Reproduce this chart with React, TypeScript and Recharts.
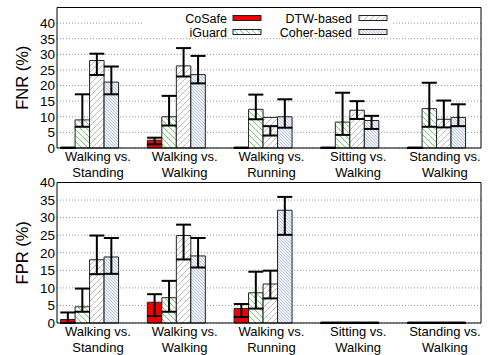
import { BarChart, Bar, XAxis, YAxis, CartesianGrid, ErrorBar } from 'recharts';

const FONT = '"Liberation Sans", Arial, Helvetica, sans-serif';

const groups = [
  ['Walking vs.', 'Standing'],
  ['Walking vs.', 'Walking'],
  ['Walking vs.', 'Running'],
  ['Sitting vs.', 'Walking'],
  ['Standing vs.', 'Walking'],
];

const seriesNames = ['CoSafe', 'iGuard', 'DTW-based', 'Coher-based'];

// FNR (%) -- bar value, lower and upper end of the error bar
const fnrCoSafe = [0, 2.5, 0, 0, 0];
const fnrCoSafeLow = [0, 1.2, 0, 0, 0];
const fnrCoSafeHigh = [0, 3.3, 0, 0, 0];
const fnrIGuard = [9.0, 10.0, 12.4, 8.3, 12.6];
const fnrIGuardLow = [6.8, 7.2, 9.2, 4.2, 6.8];
const fnrIGuardHigh = [17.2, 16.7, 17.1, 17.7, 20.9];
const fnrDtw = [28.0, 26.3, 9.8, 12.1, 9.2];
const fnrDtwLow = [23.4, 22.9, 4.0, 9.3, 6.6];
const fnrDtwHigh = [30.2, 32.0, 7.0, 15.0, 15.2];
const fnrCoher = [21.1, 23.5, 10.0, 8.8, 9.8];
const fnrCoherLow = [17.2, 20.7, 6.5, 6.1, 7.0];
const fnrCoherHigh = [26.1, 29.5, 15.6, 10.3, 14.0];

// FPR (%)
const fprCoSafe = [1.0, 5.9, 4.1, 0, 0];
const fprCoSafeLow = [0, 2.0, 1.7, 0, 0];
const fprCoSafeHigh = [3.0, 8.2, 5.4, 0, 0];
const fprIGuard = [4.6, 7.2, 8.6, 0, 0];
const fprIGuardLow = [3.2, 3.2, 4.1, 0, 0];
const fprIGuardHigh = [9.8, 12.0, 14.6, 0, 0];
const fprDtw = [18.0, 24.9, 11.1, 0, 0];
const fprDtwLow = [13.9, 18.1, 7.0, 0, 0];
const fprDtwHigh = [24.9, 28.0, 14.9, 0, 0];
const fprCoher = [18.8, 19.1, 32.1, 0, 0];
const fprCoherLow = [14.0, 15.8, 25.1, 0, 0];
const fprCoherHigh = [24.2, 24.2, 35.9, 0, 0];

const groupTicks = [0, 1, 2, 3, 4];
const yTicks = [0, 5, 10, 15, 20, 25, 30, 35, 40];

const keys = ['cosafe', 'iguard', 'dtw', 'coher'];
const fills = ['#f00000', 'url(#hatchGreen)', 'url(#hatchGray)', 'url(#hatchBlue)'];

function buildRows(vals: number[][], lows: number[][], highs: number[][]) {
  return groups.map((_, i) => {
    const row: any = { x: i };
    keys.forEach((k, s) => {
      row[k] = vals[s][i];
      row[k + 'Err'] = [vals[s][i] - lows[s][i], highs[s][i] - vals[s][i]];
    });
    return row;
  });
}

const fnrRows = buildRows(
  [fnrCoSafe, fnrIGuard, fnrDtw, fnrCoher],
  [fnrCoSafeLow, fnrIGuardLow, fnrDtwLow, fnrCoherLow],
  [fnrCoSafeHigh, fnrIGuardHigh, fnrDtwHigh, fnrCoherHigh],
);
const fprRows = buildRows(
  [fprCoSafe, fprIGuard, fprDtw, fprCoher],
  [fprCoSafeLow, fprIGuardLow, fprDtwLow, fprCoherLow],
  [fprCoSafeHigh, fprIGuardHigh, fprDtwHigh, fprCoherHigh],
);

const X_DOMAIN: [number, number] = [-0.38, 4.508];
const TICK_SHIFT = 0.085;

function GroupTick({ x, y, payload }: any) {
  const lines = groups[payload.value] || ['', ''];
  return (
    <text x={x + 8} y={y} textAnchor="middle" fontSize={13} fill="#000" fontFamily={FONT}>
      <tspan x={x + 8} dy={13}>{lines[0]}</tspan>
      <tspan x={x + 8} dy={15.5}>{lines[1]}</tspan>
    </text>
  );
}

function Panel({ rows, yMax, title }: { rows: any[]; yMax: number; title: string }) {
  return (
    <BarChart
      width={489}
      height={190}
      data={rows}
      margin={{ top: 7.5, right: 8, left: 0, bottom: 12 }}
      barGap={0}
      barSize={14.5}
    >
      <CartesianGrid vertical={false} stroke="#999" strokeDasharray="1 2" />
      <XAxis
        dataKey="x"
        type="number"
        domain={X_DOMAIN}
        ticks={groupTicks}
        interval={0}
        height={30}
        tickSize={0}
        tickMargin={0}
        tickLine={false}
        axisLine={{ stroke: '#000' }}
        tick={<GroupTick />}
      />
      <XAxis
        xAxisId="top"
        orientation="top"
        mirror
        dataKey="x"
        type="number"
        domain={[X_DOMAIN[0] + TICK_SHIFT, X_DOMAIN[1] + TICK_SHIFT]}
        ticks={groupTicks}
        tick={false}
        tickSize={4}
        tickLine={{ stroke: '#000' }}
        axisLine={{ stroke: '#000' }}
      />
      <YAxis
        width={57}
        domain={[0, yMax]}
        ticks={yTicks}
        interval={0}
        tickSize={0}
        tickMargin={2}
        tickLine={false}
        axisLine={{ stroke: '#000' }}
        tick={{ fill: '#000', fontSize: 13.5, fontFamily: FONT }}
        label={{
          value: title,
          angle: -90,
          position: 'insideLeft',
          offset: 22,
          style: { fill: '#000', fontSize: 16.5, fontFamily: FONT, textAnchor: 'middle' },
        }}
      />
      <YAxis
        yAxisId="lm"
        orientation="left"
        mirror
        domain={[0, yMax]}
        ticks={yTicks}
        tick={false}
        tickSize={4}
        tickLine={{ stroke: '#000' }}
        axisLine={false}
      />
      <YAxis
        yAxisId="rm"
        orientation="right"
        mirror
        domain={[0, yMax]}
        ticks={yTicks}
        tick={false}
        tickSize={4}
        tickLine={{ stroke: '#000' }}
        axisLine={{ stroke: '#000' }}
      />
      {keys.map((k, s) => (
        <Bar
          key={k}
          dataKey={k}
          name={seriesNames[s]}
          fill={fills[s]}
          stroke="#222"
          strokeWidth={1}
          minPointSize={1}
          isAnimationActive={false}
        >
          <ErrorBar dataKey={k + 'Err'} width={7.5} stroke="#000" strokeWidth={2} direction="y" isAnimationActive={false} />
        </Bar>
      ))}
    </BarChart>
  );
}

function Swatch({ x, y, fill }: { x: number; y: number; fill: string }) {
  return <rect x={x} y={y} width={28} height={5} fill={fill} stroke="#222" strokeWidth={1} />;
}

function LegendOverlay() {
  const textStyle = { fontSize: 12.5, fontFamily: FONT, fill: '#000' };
  return (
    <svg width={489} height={50} style={{ position: 'absolute', left: 0, top: 0 }}>
      <rect x={143} y={8.5} width={250} height={27} fill="#fff" />
      <text x={227} y={22.5} textAnchor="end" {...textStyle}>CoSafe</text>
      <text x={227} y={36.5} textAnchor="end" {...textStyle}>iGuard</text>
      <text x={352} y={22.5} textAnchor="end" {...textStyle}>DTW-based</text>
      <text x={352} y={36.5} textAnchor="end" {...textStyle}>Coher-based</text>
      <Swatch x={233} y={15.5} fill={fills[0]} />
      <Swatch x={233} y={29.5} fill={fills[1]} />
      <Swatch x={359} y={15.5} fill={fills[2]} />
      <Swatch x={359} y={29.5} fill={fills[3]} />
    </svg>
  );
}

function PatternDefs() {
  return (
    <svg width={0} height={0} style={{ position: 'absolute' }}>
      <defs>
        <pattern id="hatchGreen" patternUnits="userSpaceOnUse" width={6} height={6}>
          <rect width={6} height={6} fill="#fff" />
          <path d="M-1,-1 L7,7 M-1,5 L1,7 M5,-1 L7,1" stroke="#5cc85c" strokeWidth={0.9} />
        </pattern>
        <pattern id="hatchGray" patternUnits="userSpaceOnUse" width={6} height={6}>
          <rect width={6} height={6} fill="#fff" />
          <path d="M-1,7 L7,-1 M-1,1 L1,-1 M5,7 L7,5" stroke="#b4b4b4" strokeWidth={0.9} />
        </pattern>
        <pattern id="hatchBlue" patternUnits="userSpaceOnUse" width={3} height={3}>
          <rect width={3} height={3} fill="#eef2f8" />
          <path d="M-1,-1 L4,4 M-1,2 L1,4 M2,-1 L4,1" stroke="#a9b8d2" strokeWidth={0.7} />
        </pattern>
      </defs>
    </svg>
  );
}

export default function App() {
  return (
    <div style={{ position: 'absolute', left: 0, top: 0, width: 489, height: 355, background: '#fff', overflow: 'hidden' }}>
      <PatternDefs />
      <div style={{ position: 'absolute', left: 0, top: 0 }}>
        <Panel rows={fnrRows} yMax={45} title="FNR (%)" />
      </div>
      <div style={{ position: 'absolute', left: 0, top: 175 }}>
        <Panel rows={fprRows} yMax={40} title="FPR (%)" />
      </div>
      <LegendOverlay />
    </div>
  );
}
